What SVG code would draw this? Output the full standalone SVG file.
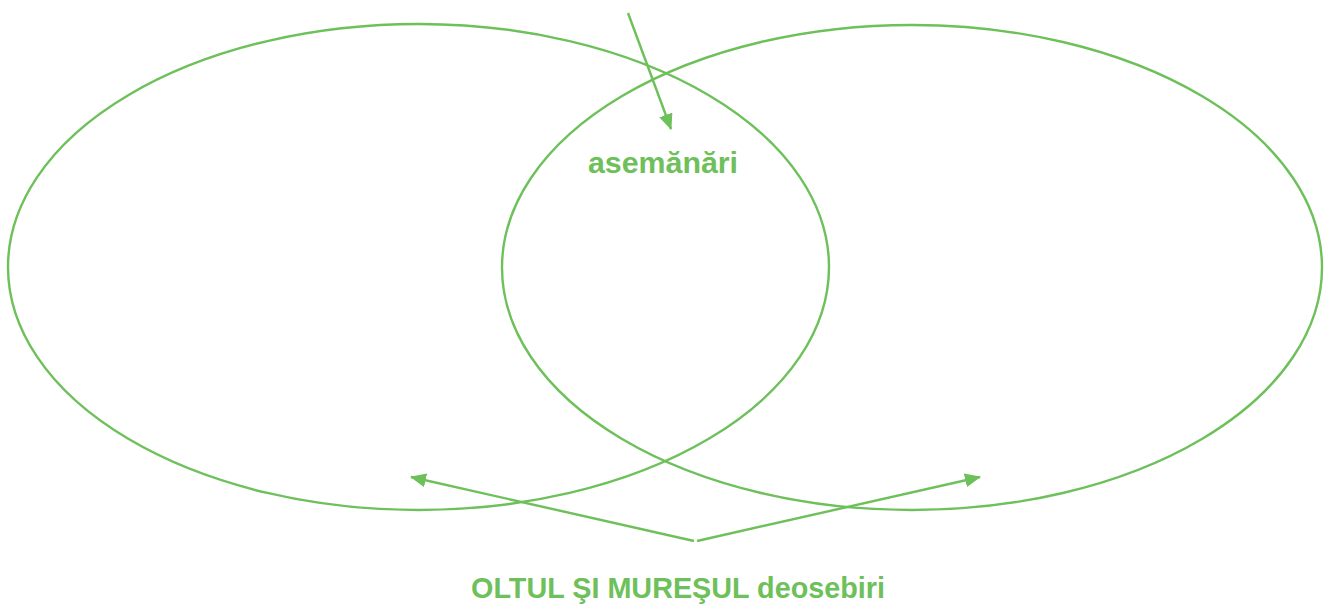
<svg xmlns="http://www.w3.org/2000/svg" width="1324" height="605" viewBox="0 0 1324 605">
<defs>
<style>
.ell{fill:none;stroke:#6dc05a;stroke-width:2.4}
.con{fill:none;stroke:#6dc05a;stroke-width:2.4}
.lbl{font-family:"Liberation Sans",Arial,sans-serif;font-weight:bold;font-size:30px;fill:#6dc05a}
</style>
<marker id="ah" markerWidth="16" markerHeight="14" refX="15" refY="7" orient="auto" markerUnits="userSpaceOnUse" viewBox="0 0 16 14">
<path d="M0,0 L16,7 L0,14 z" fill="#6dc05a"/>
</marker>
</defs>
<rect width="1324" height="605" fill="#fff"/>
<g id="left-ellipse"><ellipse class="ell" cx="418.5" cy="267" rx="410.5" ry="243"/></g>
<g id="right-ellipse"><ellipse class="ell" cx="912" cy="267.5" rx="410" ry="242.5"/></g>
<g id="label-asemanari"><text class="lbl" x="663" y="173" text-anchor="middle" textLength="150" lengthAdjust="spacingAndGlyphs">asemănări</text></g>
<g id="label-deosebiri"><text class="lbl" x="678" y="598" text-anchor="middle" textLength="414" lengthAdjust="spacingAndGlyphs">OLTUL ŞI MUREŞUL deosebiri</text></g>
<g id="connectors">
<line class="con" x1="628" y1="13" x2="671" y2="129" marker-end="url(#ah)"/>
<line class="con" x1="694" y1="541" x2="411" y2="477" marker-end="url(#ah)"/>
<line class="con" x1="697" y1="541" x2="980" y2="477" marker-end="url(#ah)"/>
</g>
</svg>
